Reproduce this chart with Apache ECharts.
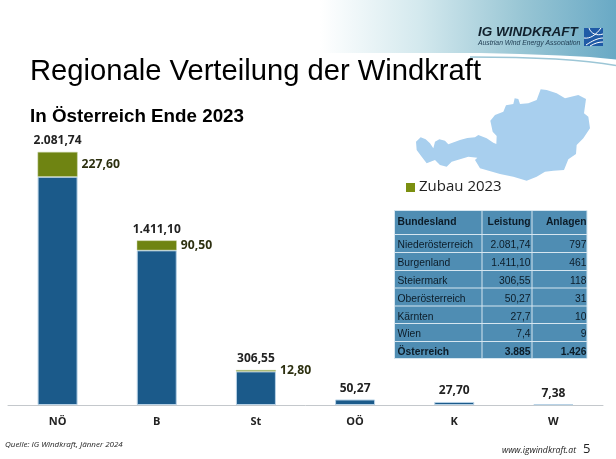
<!DOCTYPE html>
<html><head><meta charset="utf-8">
<style>html,body{margin:0;padding:0;background:#fff}#c{width:616px;height:459px}</style>
<script src="https://cdn.jsdelivr.net/npm/echarts@6/dist/echarts.min.js"></script></head>
<body><div id="c"></div>
<script>
const categories = ['NÖ','B','St','OÖ','K','W'];
const leistung = [2081.74,1411.10,306.55,50.27,27.70,7.38];
const zubau = [227.60,90.50,12.80,null,null,null];
const totalLabels = ['2.081,74','1.411,10','306,55','50,27','27,70','7,38'];
const zubauLabels = ['227,60','90,50','12,80','','',''];
const tableHeader = ['Bundesland','Leistung','Anlagen'];
const tableRows = [
 ['Niederösterreich','2.081,74','797'],
 ['Burgenland','1.411,10','461'],
 ['Steiermark','306,55','118'],
 ['Oberösterreich','50,27','31'],
 ['Kärnten','27,7','10'],
 ['Wien','7,4','9']];
const tableTotal = ['Österreich','3.885','1.426'];
const austriaOutline = [[108,425],[122,412],[137,418],[150,430],[160,445],[165,425],[178,418],[195,422],[205,433],[240,420],[262,414],[285,412],[295,405],[320,415],[340,428],[349,432],[350,408],[338,395],[331,362],[345,345],[370,335],[378,316],[400,312],[404,295],[415,297],[420,312],[445,310],[470,300],[482,268],[500,270],[530,280],[555,295],[595,285],[618,297],[612,340],[625,350],[630,385],[610,415],[590,435],[588,462],[565,478],[552,510],[520,512],[495,515],[470,530],[440,542],[400,530],[360,522],[300,505],[285,480],[292,473],[265,470],[215,485],[200,500],[180,495],[165,480],[140,490],[125,470],[110,450]];
const FONT='Liberation Sans', CAL='Open Sans';
const chart = echarts.init(document.getElementById('c'),null,{renderer:'canvas'});
const g=[];
g.push({type:'rect',z:0,shape:{x:0,y:0,width:616,height:66},style:{fill:{type:'linear',x:0,y:0,x2:1,y2:0,colorStops:[{offset:0,color:'#ffffff'},{offset:.52,color:'#ffffff'},{offset:.68,color:'#d4e9ee'},{offset:.85,color:'#97c5d4'},{offset:1,color:'#69a9c5'}]}}});
g.push({type:'polygon',z:1,shape:{points:[[0,53],[440,53],[480,53],[520,54],[560,55.5],[590,57],[616,59.5],[616,90],[0,90]]},style:{fill:'#fff'}});
g.push({type:'bezierCurve',z:2,shape:{x1:470,y1:57,cpx1:530,cpy1:57,cpx2:585,cpy2:60,x2:616,y2:65.5},style:{fill:'none',stroke:'#9cc6d6',lineWidth:1.6}});
const txt=(x,y,t,o={})=>g.push({type:'text',z:5,x,y,style:{text:t,font:o.font||`12px "${FONT}"`,fill:o.fill||'#000',textAlign:o.align||'left',textVerticalAlign:'middle'}});
txt(30,72,'Regionale Verteilung der Windkraft',{font:`29.2px "${FONT}"`});
txt(30,117,'In Österreich Ende 2023',{font:`bold 18.8px "${FONT}"`});
txt(478,32,'IG WINDKRAFT',{font:`italic bold 13.5px "${FONT}"`,fill:'#10202c'});
txt(478,43,'Austrian Wind Energy Association',{font:`italic 6.8px "${FONT}"`,fill:'#1d3a50'});
g.push({type:'rect',z:5,shape:{x:584,y:28,width:19,height:18},style:{fill:'#1f5aa6'}});
[[584,38,590,39,596,35,601,28],[586,45,592,41,598,38,603,38],[589,28,591,34,597,36,603,34],[590,46,595,43,599,42,603,42]].forEach(c=>g.push({type:'bezierCurve',z:6,shape:{x1:c[0],y1:c[1],cpx1:c[2],cpy1:c[3],cpx2:c[4],cpy2:c[5],x2:c[6],y2:c[7]},style:{fill:'none',stroke:'#fff',lineWidth:1}}));
g.push({type:'polygon',z:4,shape:{points:austriaOutline.map(p=>[380+p[0]/3,p[1]/3])},style:{fill:'#a8cfee'}});
g.push({type:'rect',z:5,shape:{x:406,y:183,width:9,height:9},style:{fill:'#7b8f10'}});
txt(419,187,'Zubau 2023',{font:`15px "${CAL}"`,fill:'#222'});
const tx=[394.5,482,532,587], ty=[210.5,234.5,252.5,270.5,288,306,323.5,341.5,358.5];
g.push({type:'rect',z:4,shape:{x:tx[0],y:ty[0],width:tx[3]-tx[0],height:ty[8]-ty[0]},style:{fill:'#4f8db3'}});
ty.forEach(y=>g.push({type:'line',z:5,shape:{x1:tx[0],y1:y,x2:tx[3],y2:y},style:{stroke:'#d6e6f0',lineWidth:1}}));
tx.forEach(x=>g.push({type:'line',z:5,shape:{x1:x,y1:ty[0],x2:x,y2:ty[8]},style:{stroke:'#d6e6f0',lineWidth:1}}));
const row=(r,i,bold)=>{const f=`${bold?'bold ':''}10.3px "${FONT}"`, y=(ty[i]+ty[i+1])/2+(i==0?0:2);
 txt(tx[0]+3,y,r[0],{font:f,fill:'#0c1c28'});
 txt(tx[2]-1.5,y,r[1],{font:f,fill:'#0c1c28',align:'right'});
 txt(tx[3]-.5,y,r[2],{font:f,fill:'#0c1c28',align:'right'});};
row(tableHeader,0,true); tableRows.forEach((r,i)=>row(r,i+1,false)); row(tableTotal,7,true);
txt(5,445,'Quelle: IG Windkraft, Jänner 2024',{font:`italic 8px "${CAL}"`,fill:'#222'});
txt(576,451,'www.igwindkraft.at',{font:`italic 8.7px "${CAL}"`,fill:'#222',align:'right'});
txt(583,449,'5',{font:`13px "${CAL}"`,fill:'#222'});

chart.setOption({
 animation:false,
 grid:{left:8,right:13,top:0,bottom:54},
 graphic:g,
 xAxis:{type:'category',data:categories,axisTick:{show:false},
  axisLine:{lineStyle:{color:'#c4c8cc',width:1}},
  axisLabel:{margin:11,fontFamily:CAL,fontWeight:'bold',fontSize:11,color:'#222'}},
 yAxis:{type:'value',min:0,max:3695,show:false,splitLine:{show:false}},
 series:[
  {type:'bar',stack:'a',data:leistung,barWidth:40,itemStyle:{color:'#1b5a8a',borderColor:'#b8d2e6',borderWidth:1}},
  {type:'bar',stack:'a',data:zubau,barWidth:40,itemStyle:{color:'#6f8412',borderColor:'#c8d4a8',borderWidth:.5},
   label:{show:true,position:'right',distance:4,formatter:p=>zubauLabels[p.dataIndex],fontFamily:CAL,fontWeight:'bold',fontSize:12.2,color:'#2d3010'}},
  {type:'bar',stack:'a',data:categories.map(()=>0),barWidth:40,itemStyle:{color:'transparent'},
   label:{show:true,position:'top',distance:5,formatter:p=>totalLabels[p.dataIndex],fontFamily:CAL,fontWeight:'bold',fontSize:12,color:'#222'}}
 ]
});
</script></body></html>
